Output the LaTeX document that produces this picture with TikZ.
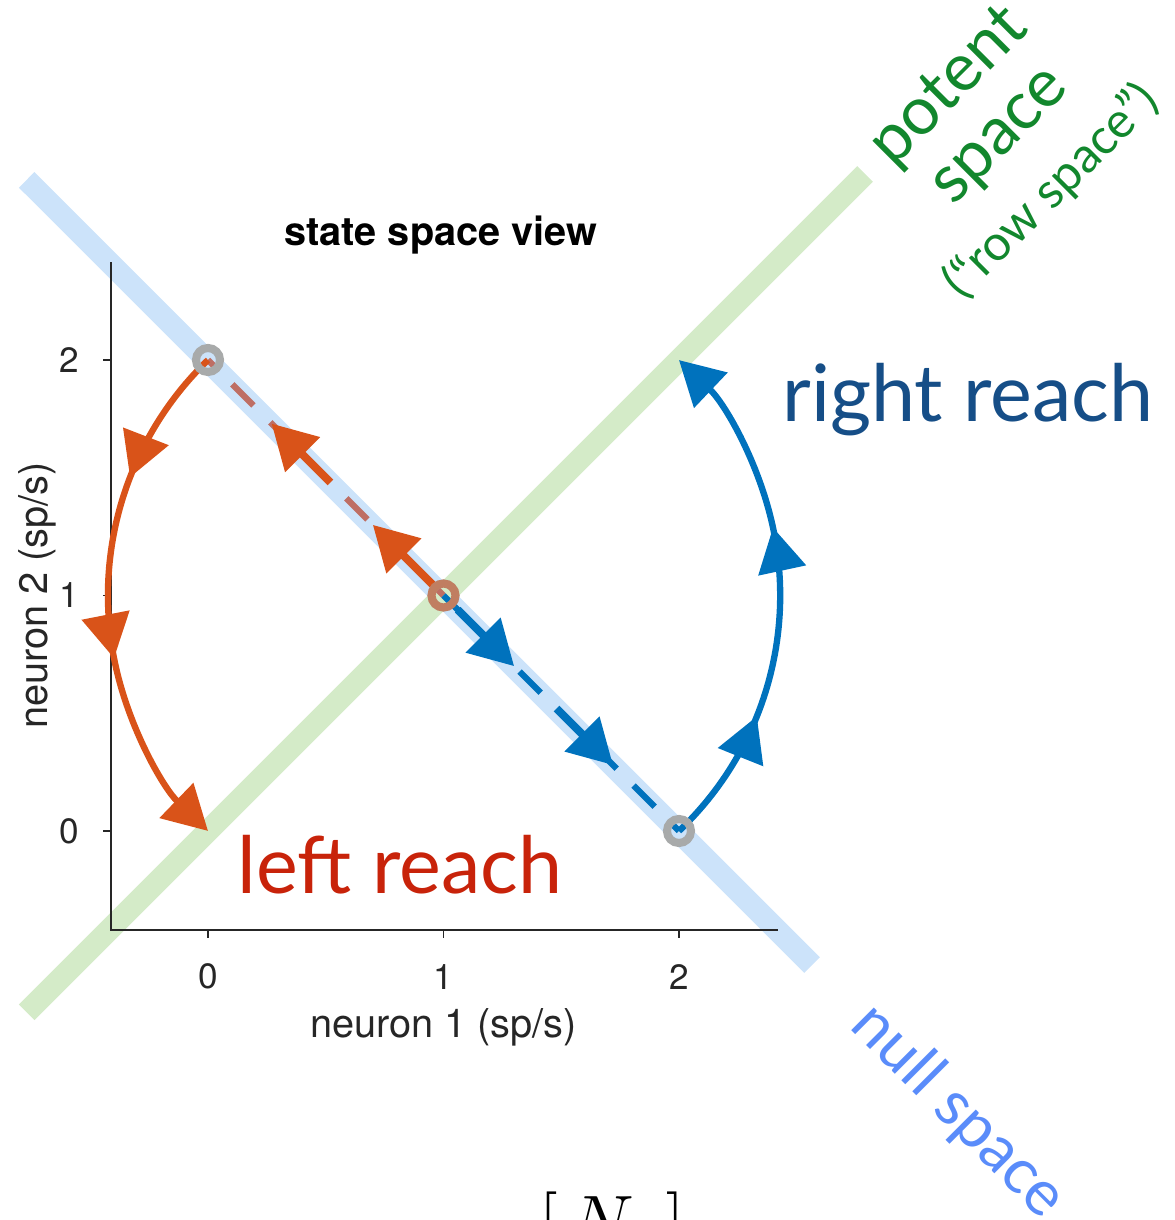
\documentclass[tikz,border=0pt]{standalone}
\usepackage{fontspec}
\setmainfont{TeX Gyre Heros}
\newfontfamily\gillfont{Lato}
\usetikzlibrary{arrows.meta,calc,decorations.markings}

\definecolor{nullband}{RGB}{204,227,250}
\definecolor{potentband}{RGB}{212,235,200}
\definecolor{morange}{RGB}{217,83,25}
\definecolor{mblue}{RGB}{0,114,189}
\definecolor{dashbrown}{RGB}{190,110,100}
\definecolor{ringgray}{RGB}{168,170,170}
\definecolor{axisgray}{RGB}{38,38,38}
\definecolor{leftred}{RGB}{200,35,10}
\definecolor{rightblue}{RGB}{22,78,135}
\definecolor{potentgreen}{RGB}{18,135,45}
\definecolor{nullblue}{RGB}{90,140,250}

\begin{document}
\begin{tikzpicture}[
    x=2.355cm, y=2.355cm,
    >={Triangle[length=12.5pt,width=13.5pt]},
    band/.style={line width=0.22cm, line cap=butt},
    axis/.style={draw=axisgray, line width=0.5pt},
    ticklabel/.style={text=axisgray, inner sep=0pt, font=\fontsize{10}{11}\selectfont},
    axlabel/.style={text=axisgray, font=\fontsize{11.3}{13}\selectfont},
    traj/.style={line width=1.8pt, ->},
    shaft/.style={line width=2.3pt, ->},
    dashes/.style={line width=1.8pt, dash pattern=on 8.5pt off 6.8pt},
    ring/.style={draw=ringgray, line width=2.3pt},
    reach/.style={font=\gillfont\fontsize{22.5}{26}\selectfont},
    spacelabel/.style={font=\gillfont\fontsize{19}{22}\selectfont, text=potentgreen, rotate=45},
    twoarrows/.style n args={2}{postaction={decorate},
        decoration={markings,
            mark=at position #1 with {\arrow{>}},
            mark=at position #2 with {\arrow{>}}}}
]
\useasboundingbox (-0.8832,-1.6518) rectangle (4.1062,3.5287);

% subspaces
\draw[band, nullband] (-0.770,2.765) -- (2.565,-0.569);
\draw[band, potentband] (-0.77,-0.77) -- (2.79,2.79);

% axes
\draw[axis] (-0.412,2.416) -- (-0.412,-0.420) -- (2.420,-0.420);
\foreach \v in {0,1,2} {
    \draw[axis] (\v,-0.420) -- ++(0,-0.034);
    \draw[axis] (-0.412,\v) -- ++(-0.034,0);
    \node[ticklabel] (xt\v) at (\v,-0.618) {\v};
    \node[ticklabel, anchor=east] (yt\v) at (-0.545,\v) {\v};
}
\node[axlabel] (xlab) at (1.0,-0.835) {neuron 1 (sp/s)};
\node[axlabel, rotate=90] (ylab) at (-0.726,1.0) {neuron 2 (sp/s)};
\node[font=\bfseries\fontsize{11.3}{13}\selectfont] (title) at (0.989,2.531) {state space view};

% start and end points
\coordinate (pL) at (0,2);
\coordinate (pC) at (1,1);
\coordinate (pR) at (2,0);

% preparatory trajectories
\draw[dashes, dashbrown] (pC) -- (pL);
\draw[dashes, mblue] (pC) -- (pR);
\draw[shaft, morange] ($(pC)!0.04!(pL)$) -- ($(pC)!0.30!(pL)$);
\draw[shaft, morange] ($(pC)!0.48!(pL)$) -- ($(pC)!0.73!(pL)$);
\draw[shaft, mblue] ($(pC)!0.06!(pR)$) -- ($(pC)!0.30!(pR)$);
\draw[shaft, mblue] ($(pC)!0.48!(pR)$) -- ($(pC)!0.72!(pR)$);

% movement trajectories
\draw[traj, morange, twoarrows={0.27}{0.62}]
    (pL) arc[start angle=133.96, end angle=226.04, radius=1.389];
\draw[traj, mblue, twoarrows={0.265}{0.63}]
    (pR) arc[start angle=-46.52, end angle=46.52, radius=1.378];

\foreach \p in {pL,pC,pR}
    \draw[ring] (\p) circle[radius=0.12cm];
\draw[ring, draw=morange, draw opacity=0.5] (pC) circle[radius=0.12cm];

% labels
\node[reach, text=rightblue] (right) at (3.227,1.830) {right reach};
\node[reach, text=leftred] (left) at (0.815,-0.144) {left reach};
\node[spacelabel] (potent) at (3.151,3.155) {potent};
\node[spacelabel] (potent2) at (3.380,2.934) {space};
\node[spacelabel, font=\gillfont\fontsize{14}{16}\selectfont] (rowsp) at (3.580,2.715) {(“row space”)};
\node[font=\gillfont\fontsize{18}{20}\selectfont, text=nullblue, rotate=-45] (null) at (3.185,-1.193) {null space};

\node[anchor=north, inner sep=0pt, font=\fontsize{21}{24}\selectfont] (nmat) at (1.716,-1.53) {$\Bigl[\,N\;\,\Bigr]$};
\end{tikzpicture}
\end{document}
